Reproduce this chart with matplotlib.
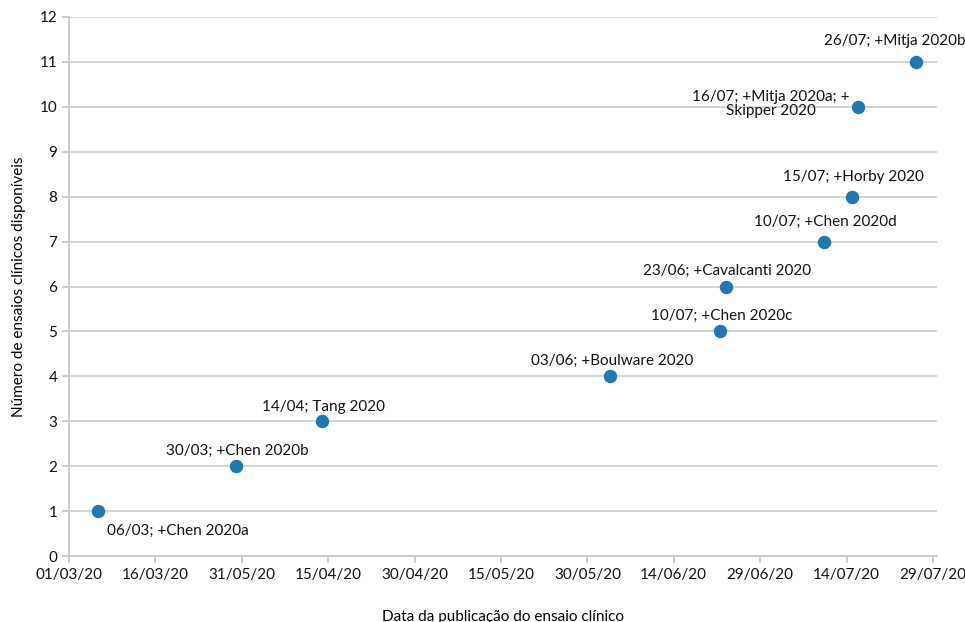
import datetime as dt

import matplotlib
matplotlib.use("Agg")
import matplotlib.pyplot as plt
import matplotlib.dates as mdates

plt.rcParams["font.family"] = ["Lato", "DejaVu Sans"]

# publication dates and cumulative trial count
dates = ["06/03", "30/03", "14/04", "03/06", "22/06", "23/06", "10/07", "15/07", "16/07", "26/07"]
counts = [1, 2, 3, 4, 5, 6, 7, 8, 10, 11]
labels = [
    "06/03; +Chen 2020a",
    "30/03; +Chen 2020b",
    "14/04; Tang 2020",
    "03/06; +Boulware 2020",
    "10/07; +Chen 2020c",
    "23/06; +Cavalcanti 2020",
    "10/07; +Chen 2020d",
    "15/07; +Horby 2020",
    "16/07; +Mitja 2020a; +\nSkipper 2020",
    "26/07; +Mitja 2020b",
]
# label offsets in points (dx, dy)
offsets = [(58, -14), (1, 11), (1, 10), (1, 11), (1, 11), (1, 11), (1, 14), (1, 14), (-63, 2), (-15, 15)]

tick_labels = ["01/03/20", "16/03/20", "31/05/20", "15/04/20", "30/04/20", "15/05/20",
               "30/05/20", "14/06/20", "29/06/20", "14/07/20", "29/07/20"]


def to_num(s):
    d, m = s.split("/")
    return mdates.date2num(dt.datetime(2020, int(m), int(d)))


x = [to_num(d) for d in dates]
start = mdates.date2num(dt.datetime(2020, 3, 1))

fig = plt.figure(figsize=(9.65, 6.22), dpi=100)
ax = fig.add_axes([69 / 965, 66 / 622, (937 - 69) / 965, (556 - 17) / 622])

ax.scatter(x, counts, s=75, color="#1f77b4", zorder=3)
for xi, yi, lab, (dx, dy) in zip(x, counts, labels, offsets):
    ax.annotate(lab, (xi, yi), xytext=(dx, dy), textcoords="offset points",
                ha="center", va="center", fontsize=11, color="#111111", linespacing=0.95)

ax.set_xlim(start, start + 150.7)
ax.set_ylim(0, 12)
ax.set_xticks([start + 15 * i for i in range(len(tick_labels))])
ax.set_xticklabels(tick_labels)
ax.set_yticks(range(13))

ax.grid(axis="y", color="#d0d0d0", lw=1.3)
ax.set_axisbelow(True)
for s in ["top", "right"]:
    ax.spines[s].set_visible(False)
for s in ["left", "bottom"]:
    ax.spines[s].set_color("#c8c8c8")
    ax.spines[s].set_linewidth(1.3)
ax.tick_params(axis="both", colors="#c8c8c8", width=1.3, length=5, labelsize=11, labelcolor="#111111")

ax.set_xlabel("Data da publicação do ensaio clínico", fontsize=11, labelpad=20)
ax.set_ylabel("Número de ensaios clínicos disponíveis", fontsize=11, labelpad=10)

fig.savefig("out.png", dpi=100)
